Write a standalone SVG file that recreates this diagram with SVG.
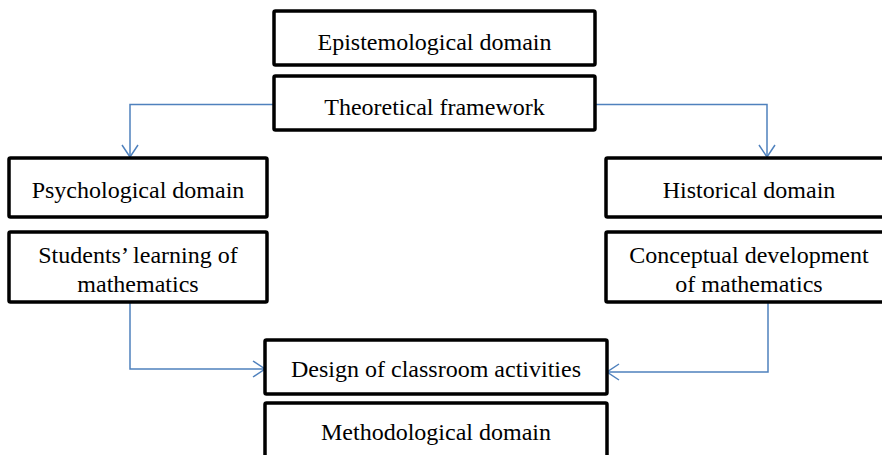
<svg xmlns="http://www.w3.org/2000/svg" width="882" height="455" viewBox="0 0 882 455">
<defs>
<style>
.box{fill:#fff;stroke:#000;stroke-width:3.5}
.t{font-family:"Liberation Serif","Times New Roman",serif;font-size:24px;fill:#000;text-anchor:middle}
.c{fill:none;stroke:#4F81BD;stroke-width:1.5}
</style>
<marker id="arr" viewBox="0 0 14 18" refX="13" refY="9" markerWidth="14" markerHeight="18" markerUnits="userSpaceOnUse" orient="auto">
<path d="M1,1 L13,9 L1,17" fill="none" stroke="#4F81BD" stroke-width="1.5"/>
</marker>
</defs>
<rect width="882" height="455" fill="#fff"/>
<g id="connectors">
<path class="c" d="M274,104.5 H130 V157" marker-end="url(#arr)"/>
<path class="c" d="M595,104.5 H767 V157" marker-end="url(#arr)"/>
<path class="c" d="M130,302 V369 H265" marker-end="url(#arr)"/>
<path class="c" d="M768,302 V372 H607" marker-end="url(#arr)"/>
</g>
<g id="epistemological">
<rect class="box" x="274" y="11" width="321" height="54" rx="1.5"/>
<text class="t" x="434.5" y="50">Epistemological domain</text>
</g>
<g id="theoretical">
<rect class="box" x="274" y="76" width="321" height="54" rx="1.5"/>
<text class="t" x="434.5" y="115">Theoretical framework</text>
</g>
<g id="psychological">
<rect class="box" x="9" y="158" width="258" height="59" rx="1.5"/>
<text class="t" x="138" y="198">Psychological domain</text>
</g>
<g id="students">
<rect class="box" x="9" y="232" width="258" height="70" rx="1.5"/>
<text class="t" x="138" y="263">Students’ learning of</text>
<text class="t" x="138" y="292">mathematics</text>
</g>
<g id="historical">
<rect class="box" x="606" y="158" width="286" height="59" rx="1.5"/>
<text class="t" x="749" y="198">Historical domain</text>
</g>
<g id="conceptual">
<rect class="box" x="606" y="232" width="286" height="70" rx="1.5"/>
<text class="t" x="749" y="263">Conceptual development</text>
<text class="t" x="749" y="292">of mathematics</text>
</g>
<g id="design">
<rect class="box" x="265" y="340" width="342" height="54" rx="1.5"/>
<text class="t" x="436" y="377">Design of classroom activities</text>
</g>
<g id="methodological">
<rect class="box" x="265" y="403" width="342" height="60" rx="1.5"/>
<text class="t" x="436" y="440">Methodological domain</text>
</g>
</svg>
